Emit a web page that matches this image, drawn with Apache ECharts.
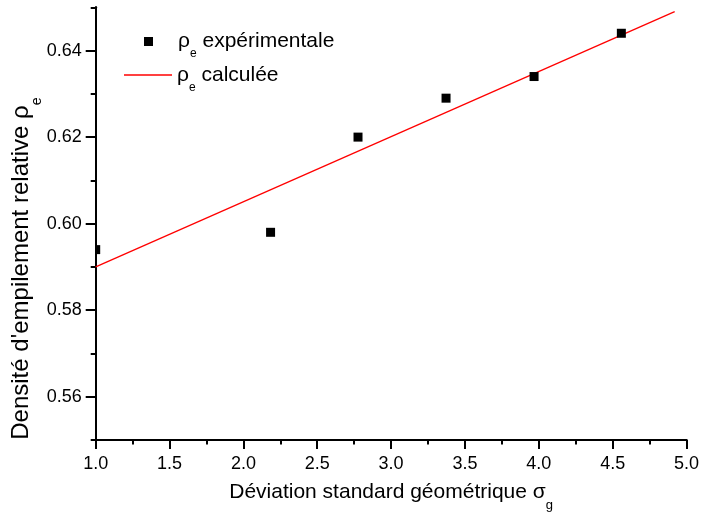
<!DOCTYPE html>
<html><head><meta charset="utf-8">
<script src="https://cdn.jsdelivr.net/npm/echarts@6/dist/echarts.min.js"></script>
<style>html,body{margin:0;padding:0;background:#fff}#c{width:702px;height:517px}</style>
</head><body><div id="c"></div>
<script>
const expX = [1.0, 2.184, 2.776, 3.372, 3.968, 4.559];
const expY = [0.594, 0.598, 0.620, 0.629, 0.634, 0.644];
const calcX = [1.0, 4.92];
const calcY = [0.590, 0.649];
const yLabels = [0.56, 0.58, 0.60, 0.62, 0.64];
const xLabels = [1.0, 1.5, 2.0, 2.5, 3.0, 3.5, 4.0, 4.5, 5.0];

const FONT = 'Liberation Sans, Arial, sans-serif';
const chart = echarts.init(document.getElementById('c'), null, {renderer: 'canvas'});
const nameExp = 'exp', nameCalc = 'calc';
const rich = {
  r: {fontFamily: FONT, fontSize: 21, color: '#000'},
  s: {fontFamily: FONT, fontSize: 12, color: '#000', verticalAlign: 'bottom', padding: [0, 0, -8, 0]}
};
const titleRich = {
  r: {fontFamily: FONT, fontSize: 21, color: '#000'},
  s: {fontFamily: FONT, fontSize: 13, color: '#000', verticalAlign: 'bottom', padding: [0, 0, -9, 0]}
};
const yTitleRich = {
  r: {fontFamily: FONT, fontSize: 24, color: '#000'},
  s: {fontFamily: FONT, fontSize: 14, color: '#000', verticalAlign: 'bottom', padding: [0, 0, -10, 0]}
};
const axLine = {show: true, lineStyle: {color: '#000', width: 2}};
chart.setOption({
  animation: false,
  grid: {left: 95.7, right: 13.3, top: 7.3, bottom: 74.3, containLabel: false},
  legend: [
    {data: [{name: nameExp, icon: 'rect', itemStyle: {color: '#000'}}], left: 144, top: 31, padding: 0, itemWidth: 9, itemHeight: 9, orient: 'vertical',
     formatter: () => '{r|ρ}{s|e}{r| expérimentale}', textStyle: {padding: [0, 0, 0, 20], rich}},
    {data: [{name: nameCalc, icon: 'rect', itemStyle: {color: '#ff0000'}}], left: 124, top: 64.5, padding: 0, itemWidth: 48, itemHeight: 1.3, orient: 'vertical',
     formatter: () => '{r|ρ}{s|e}{r| calculée}', textStyle: {rich}}
  ],
  xAxis: [
    {type: 'value', min: 1.0, max: 5.0, interval: 0.5,
     axisLine: axLine, splitLine: {show: false},
     axisTick: {show: true, inside: false, length: 9, lineStyle: {color: '#000', width: 2}},
     axisLabel: {margin: 15, fontFamily: FONT, fontSize: 18, color: '#000', formatter: v => v.toFixed(1), showMinLabel: true, showMaxLabel: true},
     name: '{r|Déviation standard géométrique σ}{s|g}', nameLocation: 'middle', nameGap: 42,
     nameTextStyle: {rich: titleRich}},
    {type: 'value', min: 1.0, max: 5.0, interval: 0.25, position: 'bottom',
     axisLine: axLine, splitLine: {show: false},
     axisTick: {show: true, length: 4.5, lineStyle: {color: '#000', width: 2}},
     axisLabel: {show: false}}
  ],
  yAxis: [
    {type: 'value', min: 0.55, max: 0.65, interval: 0.01,
     axisLine: axLine, splitLine: {show: false},
     axisTick: {show: true, length: 5, lineStyle: {color: '#000', width: 2}},
     axisLabel: {show: false},
     name: '{r|Densité d\'empilement relative ρ}{s|e}', nameLocation: 'middle', nameGap: 62, nameRotate: 90,
     nameTextStyle: {rich: yTitleRich, padding: [0, 90, 0, 0]}},
    {type: 'value', min: 0.55, max: 0.65, position: 'left',
     axisLine: axLine, splitLine: {show: false},
     axisTick: {show: true, length: 10, customValues: yLabels, lineStyle: {color: '#000', width: 2}},
     axisLabel: {customValues: yLabels, margin: 14, fontFamily: FONT, fontSize: 18, color: '#000', formatter: v => v.toFixed(2)}}
  ],
  series: [
    {name: nameCalc, type: 'line', xAxisIndex: 0, yAxisIndex: 0, symbol: 'none', showSymbol: false,
     lineStyle: {color: '#ff0000', width: 1.3}, itemStyle: {color: '#ff0000'},
     data: calcX.map((x, i) => [x, calcY[i]]), z: 2},
    {name: nameExp, type: 'custom', xAxisIndex: 0, yAxisIndex: 0, itemStyle: {color: '#000'},
     data: expX.map((x, i) => [x, expY[i]]), z: 3,
     renderItem: (params, api) => {
       const p = api.coord([api.value(0), api.value(1)]);
       const s = 9;
       const cs = params.coordSys;
       const r = echarts.graphic.clipRectByRect({x: p[0] - s / 2, y: p[1] - s / 2, width: s, height: s},
         {x: cs.x, y: cs.y, width: cs.width, height: cs.height});
       if (!r) return null;
       return {type: 'rect', shape: r, style: {fill: '#000'}};
     }}
  ]
});
</script></body></html>
